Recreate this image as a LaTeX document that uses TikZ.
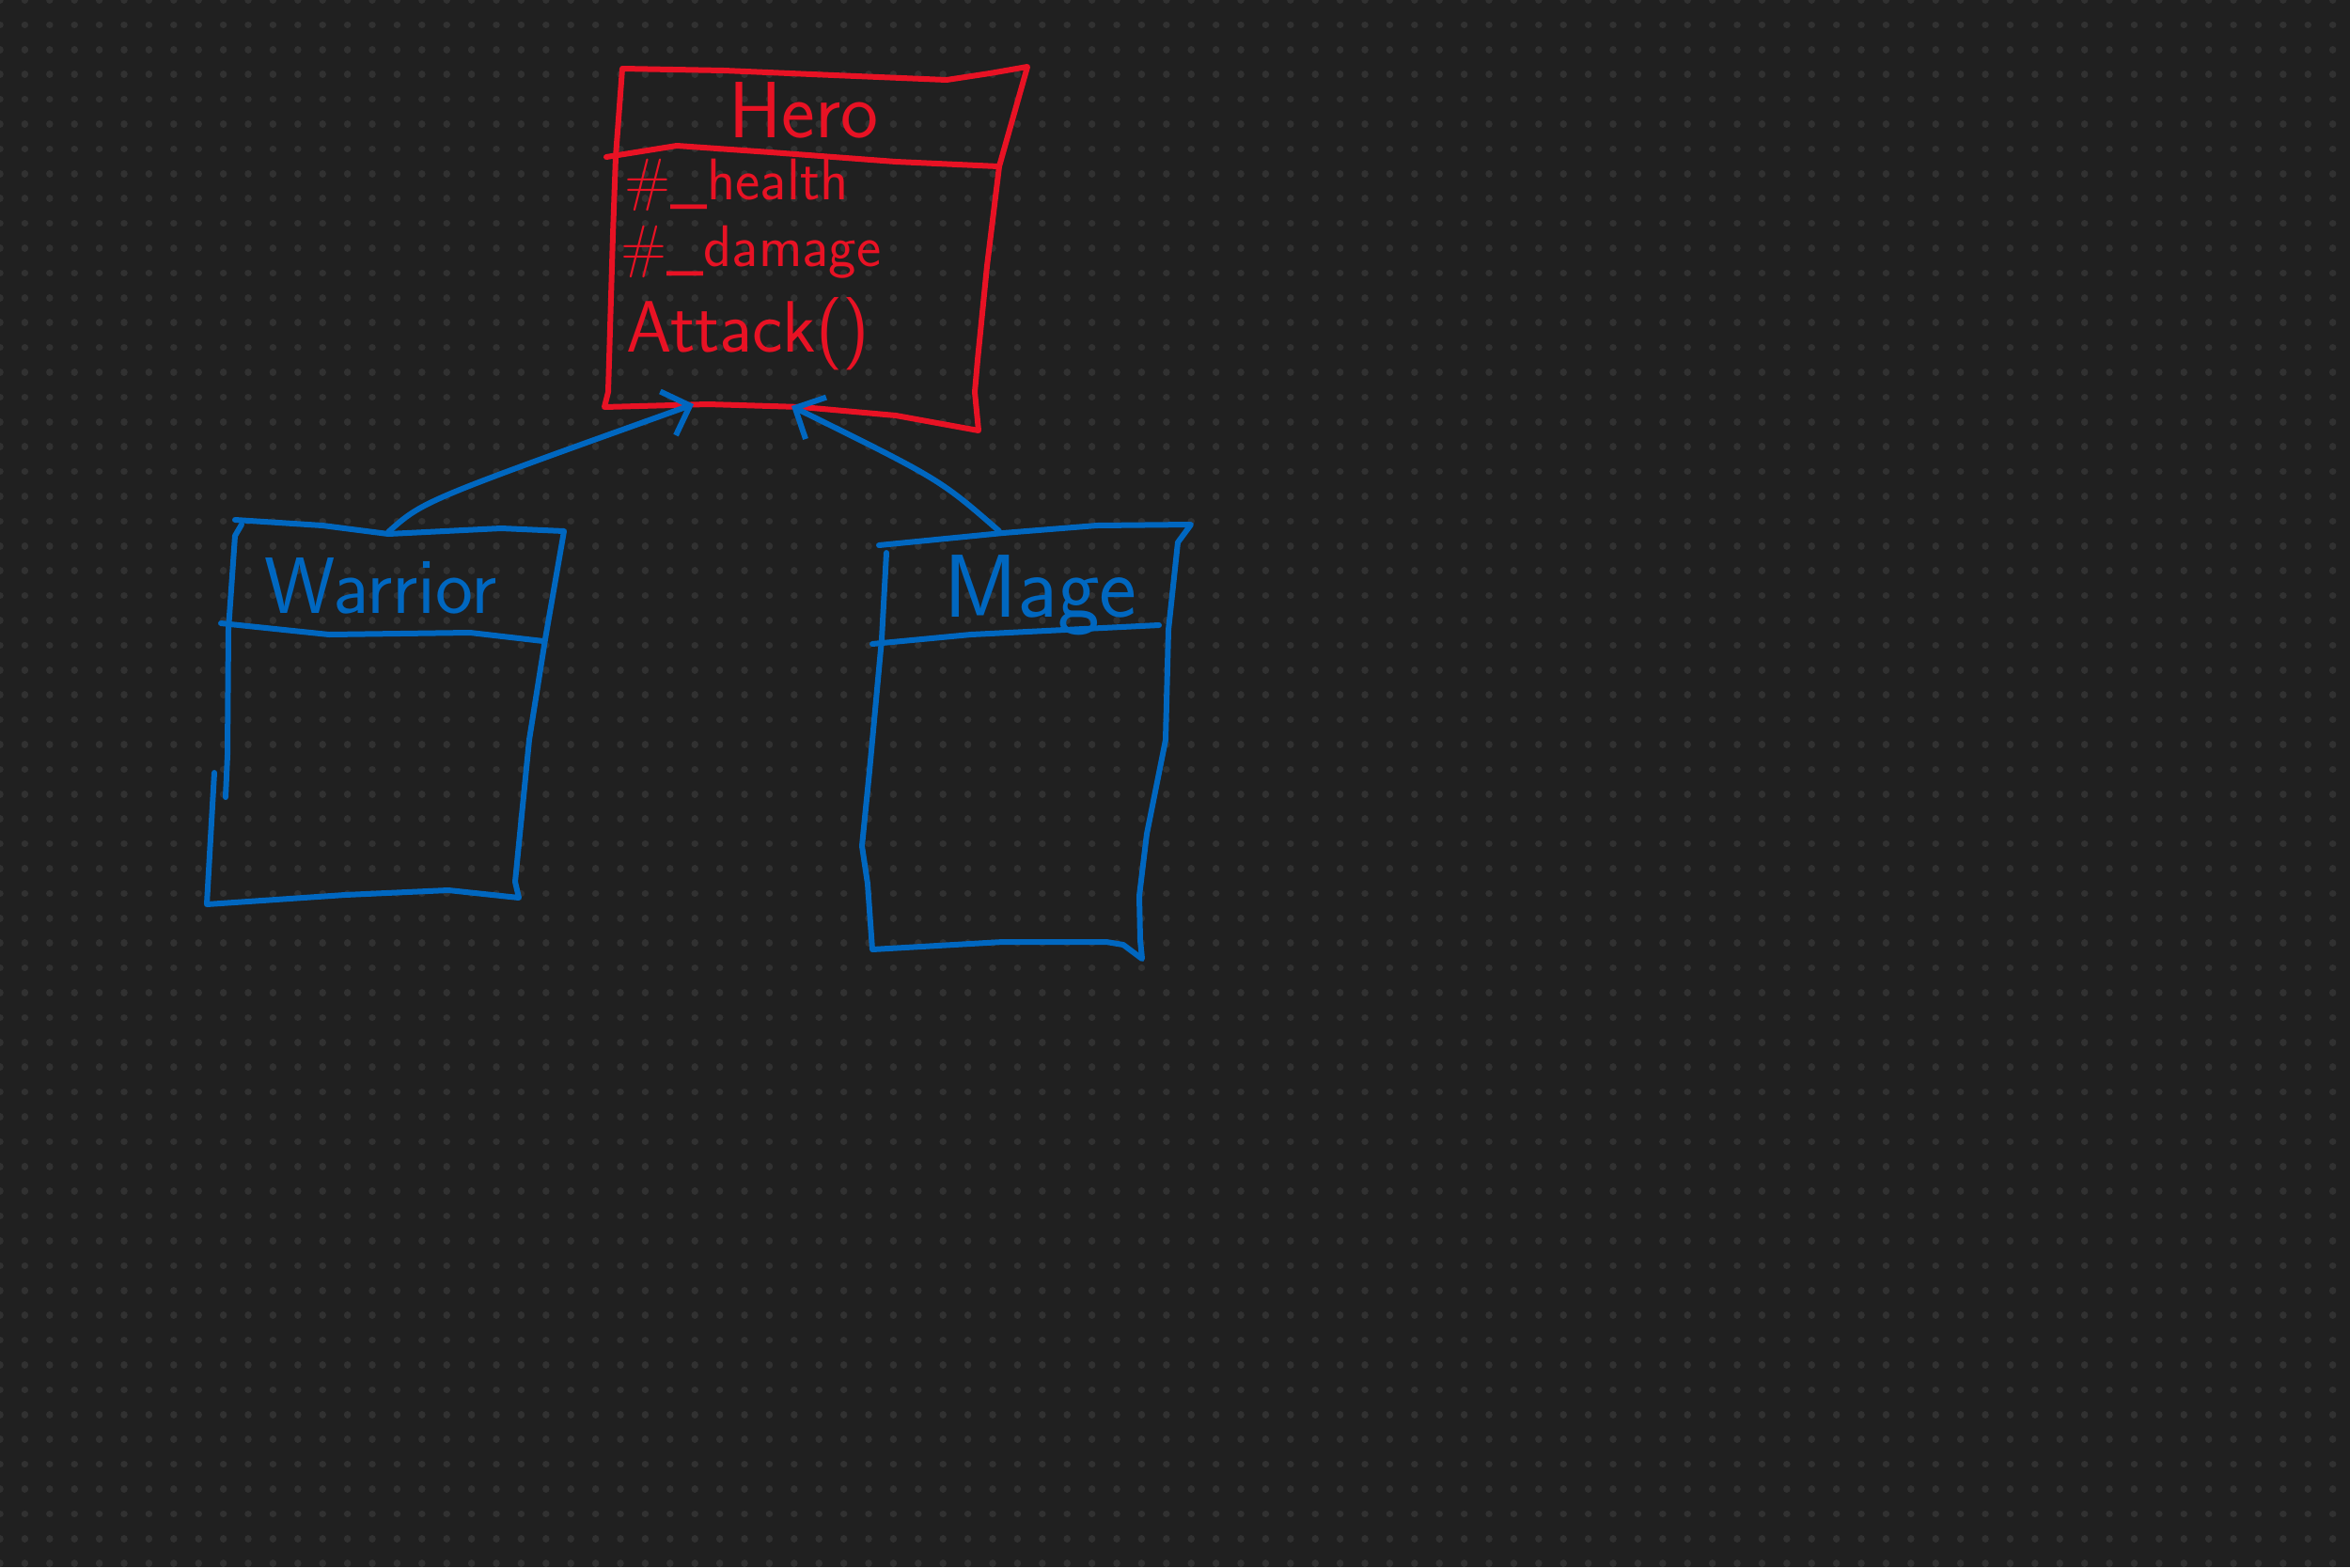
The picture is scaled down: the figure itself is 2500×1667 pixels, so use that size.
\documentclass[tikz,border=0pt]{standalone}
\usepackage{fontspec}
\usepackage{tikz}
\usetikzlibrary{arrows.meta}
\definecolor{board}{HTML}{202020}
\definecolor{dotgrey}{HTML}{313131}
\definecolor{penred}{HTML}{E81224}
\definecolor{penblue}{HTML}{0067C0}

\begin{document}
\begin{tikzpicture}[x=0.4pt,y=-0.4pt,
  redpen/.style={draw=penred, line width=2.4pt, line cap=round, line join=round},
  bluepen/.style={draw=penblue, line width=2.4pt, line cap=round, line join=round},
  redtext/.style={text=penred, inner sep=0pt},
  bluetext/.style={text=penblue, inner sep=0pt},
  extends/.style={bluepen, -{Straight Barb[angle=90:14pt]}}]
%set diagram to the size of the board
\fill[board] (0,0) rectangle (2500,1667);
\useasboundingbox (0,0) rectangle (2500,1667);

%Dot grid
\foreach \row in {0,...,63}
  \draw[dotgrey, line width=3pt, line cap=round, dash pattern=on 0.01pt off 10.55pt] (0,\row*26.4) -- (2500,\row*26.4);

%Hero box
\draw[redpen] (662,73) -- (770,75) -- (887,80) -- (1007,85) -- (1053,78) -- (1093,71) -- (1063,177) -- (1050,283) -- (1040,383) -- (1037,417) -- (1041,458) -- (953,442) -- (853,433) -- (753,430) -- (643,433) -- (647,417) -- (650,317) -- (652,250) -- (655,167) -- cycle;
\draw[redpen] (645,167) -- (720,155) -- (820,162) -- (953,172) -- (1062,177);
% Text Node
\node[redtext, anchor=base, font=\sffamily\fontsize{34}{40}\selectfont] (hero) at (855,146) {Hero};
\node[redtext, anchor=base west, font=\sffamily\fontsize{25}{30}\selectfont] (health) at (664,212) {\#\_health};
\node[redtext, anchor=base west, font=\sffamily\fontsize{25}{30}\selectfont] (damage) at (660,283) {\#\_damage};
\node[redtext, anchor=base west, font=\sffamily\fontsize{31}{36}\selectfont] (attack) at (666,374) {Attack()};

%Warrior box
\draw[bluepen] (250,553) -- (343,559) -- (413,568) -- (533,562) -- (600,565) -- (580,680) -- (563,787) -- (548,938) -- (552,955) -- (477,947) -- (367,952) -- (220,962) -- (228,822);
\draw[bluepen] (240,848) -- (242,803) -- (243,670) -- (250,570) -- (257,558);
\draw[bluepen] (235,663) -- (350,675) -- (500,673) -- (578,682);
% Text Node
\node[bluetext, anchor=base, font=\sffamily\fontsize{34}{40}\selectfont] (warrior) at (405,652) {Warrior};

%Mage box
\draw[bluepen] (935,580) -- (1067,567) -- (1167,559) -- (1267,558) -- (1253,577) -- (1243,670) -- (1240,787) -- (1220,887) -- (1212,953) -- (1213,1000) -- (1215,1020) -- (1195,1005) -- (1177,1002) -- (1067,1002) -- (928,1010) -- (923,940) -- (917,900) -- (925,820) -- (938,680) -- (943,588);
\draw[bluepen] (928,685) -- (1033,675) -- (1133,670) -- (1233,665);
% Text Node
\node[bluetext, anchor=base, font=\sffamily\fontsize{38}{44}\selectfont] (mage) at (1107,656) {Mage};

%Inheritance arrows
\coordinate (warrior-top) at (413,566);
\coordinate (mage-top) at (1063,565);
\coordinate (hero-foot-l) at (738,430);
\coordinate (hero-foot-r) at (842,432);
\draw[extends] (warrior-top) .. controls (450,533) .. (hero-foot-l);
\draw[extends] (mage-top) .. controls (1000,510) .. (hero-foot-r);

\end{tikzpicture}
\end{document}
